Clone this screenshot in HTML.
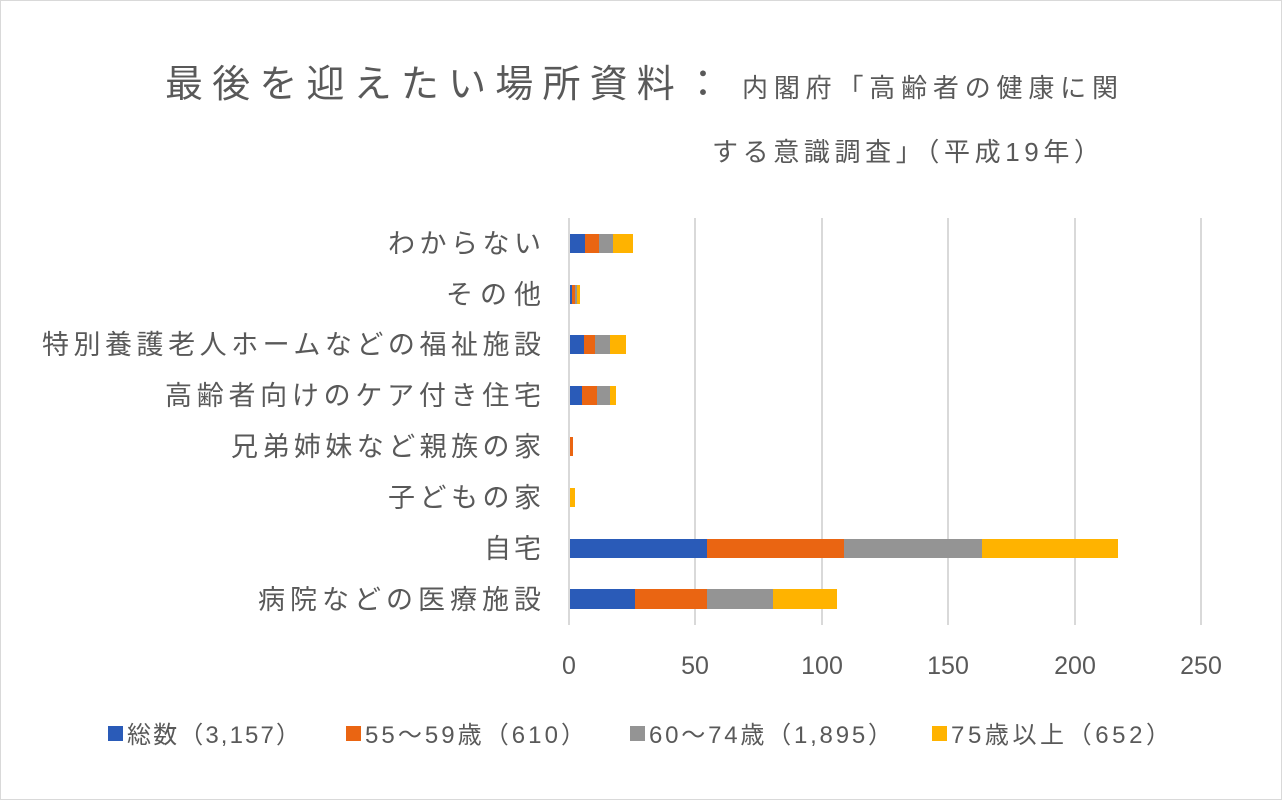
<!DOCTYPE html>
<html><head><meta charset="utf-8"><style>
html,body{margin:0;padding:0;background:#fff;}
svg{display:block;}
text{font-family:"Liberation Sans","Noto Sans CJK JP",sans-serif;fill:#595959;}
</style></head><body>
<svg width="1282" height="800" viewBox="0 0 1282 800" xmlns="http://www.w3.org/2000/svg">
<rect x="0.5" y="0.5" width="1281" height="799" fill="#fff" stroke="#d9d9d9"/>
<text x="165" y="97" font-size="38" textLength="557" lengthAdjust="spacing">最後を迎えたい場所資料：</text>
<text x="742" y="97" font-size="26" textLength="376" lengthAdjust="spacing">内閣府「高齢者の健康に関</text>
<text x="712" y="161" font-size="26" textLength="388" lengthAdjust="spacing">する意識調査」（平成19年）</text>
<g stroke="#d9d9d9" stroke-width="2">
<line x1="695" y1="218" x2="695" y2="625"/>
<line x1="822" y1="218" x2="822" y2="625"/>
<line x1="948" y1="218" x2="948" y2="625"/>
<line x1="1075" y1="218" x2="1075" y2="625"/>
<line x1="1201" y1="218" x2="1201" y2="625"/>
<line x1="569" y1="218" x2="569" y2="625"/>
</g>
<rect x="570" y="234" width="15" height="19" fill="#2a5bb8"/><rect x="585" y="234" width="14" height="19" fill="#ea6512"/><rect x="599" y="234" width="14" height="19" fill="#949494"/><rect x="613" y="234" width="20" height="19" fill="#ffb300"/>
<rect x="570" y="285" width="2" height="19" fill="#2a5bb8"/><rect x="572" y="285" width="3" height="19" fill="#ea6512"/><rect x="575" y="285" width="2" height="19" fill="#949494"/><rect x="577" y="285" width="3" height="19" fill="#ffb300"/>
<rect x="570" y="335" width="14" height="19" fill="#2a5bb8"/><rect x="584" y="335" width="11" height="19" fill="#ea6512"/><rect x="595" y="335" width="15" height="19" fill="#949494"/><rect x="610" y="335" width="16" height="19" fill="#ffb300"/>
<rect x="570" y="386" width="12" height="19" fill="#2a5bb8"/><rect x="582" y="386" width="15" height="19" fill="#ea6512"/><rect x="597" y="386" width="13" height="19" fill="#949494"/><rect x="610" y="386" width="6" height="19" fill="#ffb300"/>
<rect x="570" y="437" width="3" height="19" fill="#ea6512"/>
<rect x="570" y="488" width="5" height="19" fill="#ffb300"/>
<rect x="570" y="539" width="137" height="19" fill="#2a5bb8"/><rect x="707" y="539" width="137" height="19" fill="#ea6512"/><rect x="844" y="539" width="138" height="19" fill="#949494"/><rect x="982" y="539" width="136" height="19" fill="#ffb300"/>
<rect x="570" y="589" width="65" height="20" fill="#2a5bb8"/><rect x="635" y="589" width="72" height="20" fill="#ea6512"/><rect x="707" y="589" width="66" height="20" fill="#949494"/><rect x="773" y="589" width="64" height="20" fill="#ffb300"/>
<g font-size="27" lengthAdjust="spacing">
<text x="388" y="253" textLength="153">わからない</text>
<text x="446" y="304" textLength="95">その他</text>
<text x="42" y="354" textLength="499">特別養護老人ホームなどの福祉施設</text>
<text x="165" y="405" textLength="376">高齢者向けのケア付き住宅</text>
<text x="231" y="456" textLength="310">兄弟姉妹など親族の家</text>
<text x="388" y="507" textLength="153">子どもの家</text>
<text x="484" y="558" textLength="57">自宅</text>
<text x="258" y="609" textLength="283">病院などの医療施設</text>
</g>
<g font-size="25" text-anchor="middle">
<text x="569" y="674">0</text><text x="695" y="674">50</text><text x="822" y="674">100</text><text x="948" y="674">150</text><text x="1075" y="674">200</text><text x="1201" y="674">250</text>
</g>
<g font-size="24" lengthAdjust="spacing">
<rect x="108" y="726" width="15" height="15" fill="#2a5bb8"/><text x="127" y="743" textLength="173">総数（3,157）</text>
<rect x="346" y="726" width="15" height="15" fill="#ea6512"/><text x="365" y="743" textLength="220">55～59歳（610）</text>
<rect x="630" y="726" width="15" height="15" fill="#949494"/><text x="649" y="743" textLength="243">60～74歳（1,895）</text>
<rect x="932" y="726" width="15" height="15" fill="#ffb300"/><text x="951" y="743" textLength="219">75歳以上（652）</text>
</g>
</svg>
</body></html>
